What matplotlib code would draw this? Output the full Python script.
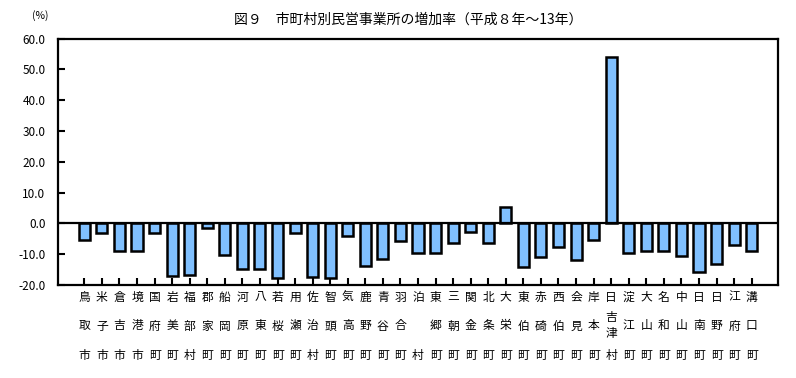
import matplotlib
matplotlib.use("Agg")
import matplotlib.pyplot as plt
import matplotlib.transforms as mtransforms
import numpy as np

plt.rcParams['font.family'] = ['Noto Sans CJK JP', 'DejaVu Sans']

# 市町村名と増加率（%）
names = ["鳥取市", "米子市", "倉吉市", "境港市", "国府町", "岩美町", "福部村", "郡家町",
         "船岡町", "河原町", "八東町", "若桜町", "用瀬町", "佐治村", "智頭町", "気高町",
         "鹿野町", "青谷町", "羽合町", "泊村", "東郷町", "三朝町", "関金町", "北条町",
         "大栄町", "東伯町", "赤碕町", "西伯町", "会見町", "岸本町", "日吉津村", "淀江町",
         "大山町", "名和町", "中山町", "日南町", "日野町", "江府町", "溝口町"]
rates = [-5.3, -3.0, -9.1, -8.9, -3.0, -17.1, -16.7, -1.4,
         -10.1, -14.8, -14.8, -17.7, -3.0, -17.4, -17.7, -4.0,
         -13.8, -11.5, -5.7, -9.5, -9.5, -6.5, -2.9, -6.2,
         5.2, -14.1, -10.9, -7.6, -11.8, -5.3, 54.0, -9.6,
         -8.9, -8.9, -10.5, -15.7, -13.2, -7.0, -9.1]
yticks = [60, 50, 40, 30, 20, 10, 0, -10, -20]

W, H = 796, 378
fig = plt.figure(figsize=(W / 100, H / 100), dpi=100)
ax = fig.add_axes([58 / W, 1 - 285 / H, (778 - 58) / W, (285 - 38.7) / H])

x = np.arange(len(names))
ax.bar(x, rates, width=0.63, color="#80C0FF", edgecolor="black", linewidth=1.8, zorder=2)
ax.axhline(0, color="black", linewidth=1.6, zorder=3)

ax.set_xlim(-1.5, len(names) + 0.5)
ax.set_ylim(-20, 60)
ax.set_yticks(yticks)
ax.set_yticklabels([f"{v:.1f}" for v in yticks], fontsize=8.5)
ax.set_xticks(x)
ax.set_xticklabels([])
ax.tick_params(axis="both", direction="in", length=5, width=1.5)
ax.tick_params(axis="y", pad=9)
for s in ax.spines.values():
    s.set_linewidth(1.6)

# 縦書きのラベル
trans = mtransforms.blended_transform_factory(ax.transData, fig.transFigure)
def fy(py):
    return 1 - py / H
for i, n in enumerate(names):
    ax.text(i, fy(297), n[0], transform=trans, ha="center", va="center", fontsize=8.5)
    ax.text(i, fy(355), n[-1], transform=trans, ha="center", va="center", fontsize=8.5)
    mid = n[1:-1]
    if len(mid) == 1:
        ax.text(i, fy(326), mid, transform=trans, ha="center", va="center", fontsize=8.5)
    elif len(mid) == 2:
        ax.text(i, fy(317), mid[0], transform=trans, ha="center", va="center", fontsize=8.5)
        ax.text(i, fy(334), mid[1], transform=trans, ha="center", va="center", fontsize=8.5)

fig.text(408 / W, fy(20), "図９　市町村別民営事業所の増加率（平成８年～13年）",
         ha="center", va="center", fontsize=10)
fig.text(40 / W, fy(16), "(%)", ha="center", va="center", fontsize=7.5)

fig.savefig("out.png", dpi=100)
